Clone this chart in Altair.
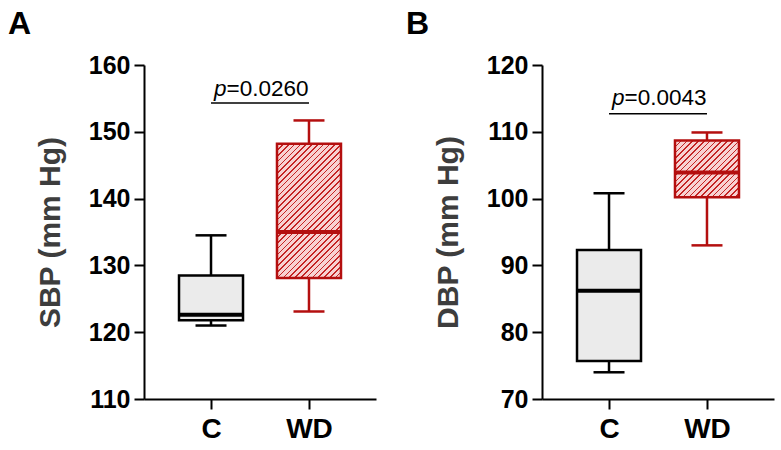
import altair as alt
import pandas as pd

# Groups on the x axis
groups = ["C", "WD"]

# Systolic blood pressure box statistics (mm Hg), one entry per group
sbp_min = [121.0, 123.1]
sbp_q1 = [121.8, 128.1]
sbp_median = [122.6, 135.0]
sbp_q3 = [128.5, 148.2]
sbp_max = [134.5, 151.7]

# Diastolic blood pressure box statistics (mm Hg)
dbp_min = [74.0, 93.0]
dbp_q1 = [75.7, 100.2]
dbp_median = [86.2, 103.9]
dbp_q3 = [92.3, 108.7]
dbp_max = [100.8, 109.9]

# Axis ticks
sbp_ticks = [110, 120, 130, 140, 150, 160]
dbp_ticks = [70, 80, 90, 100, 110, 120]

# Significance annotations
p_values = ["=0.0260", "=0.0043"]
bracket_y = [154.3, 112.7]
label_y = [155.3, 114.0]

FONT = "Liberation Sans"
RED = "#b40f0f"
STRIPE = "#c42424"
PINK = "#f8d2d2"
PLOT_W = 232
PLOT_H = 334
BOX_W = 64


def hatch(height_px, width_px=BOX_W, period=5.8, line=1.7):
    """Diagonal '/' stripes as a hard-stop linear gradient over the box."""
    w, h = width_px, height_px
    s = w + h
    n2 = w * w + h * h
    x2 = w * s / n2
    y2 = h * s / n2
    stops = []
    T = period / s
    a = line / s
    k = 0
    while k * T < 1:
        o = k * T
        stops += [
            {"offset": min(o, 1), "color": STRIPE},
            {"offset": min(o + a, 1), "color": STRIPE},
            {"offset": min(o + a, 1), "color": PINK},
            {"offset": min(o + T, 1), "color": PINK},
        ]
        k += 1
    return {"gradient": "linear", "x1": 0, "y1": 0, "x2": x2, "y2": y2,
            "stops": stops}


def panel(letter, ytitle, lo, q1, med, q3, hi, ticks, p_text, br_y, lab_y):
    df = pd.DataFrame({"group": groups, "lo": lo, "q1": q1, "med": med,
                       "q3": q3, "hi": hi})
    ann = pd.DataFrame({"start": ["C"], "end": ["WD"], "by": [br_y],
                        "ly": [lab_y], "p": ["p"], "rest": [p_text]})

    yscale = alt.Scale(domain=[ticks[0], ticks[-1]], nice=False, zero=False)
    yaxis = alt.Axis(values=ticks, title=ytitle)
    xscale = alt.Scale(type="point", domain=groups, padding=0.684)
    xaxis = alt.Axis(title=None, labelAngle=0)
    color = alt.Color("group:N", scale=alt.Scale(domain=groups,
                      range=["#000000", RED]), legend=None)

    def Y(field):
        return alt.Y(f"{field}:Q", scale=yscale, axis=yaxis, title=ytitle)

    def X(field="group"):
        return alt.X(f"{field}:N", scale=xscale, axis=xaxis, title=None)

    base = alt.Chart(df)
    whisker = base.mark_rule(strokeWidth=2.5).encode(
        x=X(), y=Y("lo"), y2="hi", color=color)
    cap_lo = base.mark_tick(orient="horizontal", size=31, thickness=2.5,
                            opacity=1).encode(x=X(), y=Y("lo"), color=color)
    cap_hi = base.mark_tick(orient="horizontal", size=31, thickness=2.5,
                            opacity=1).encode(x=X(), y=Y("hi"), color=color)
    box_c = base.transform_filter(alt.datum.group == "C").mark_bar(
        size=BOX_W, fill="#ebebeb", stroke="#000000", strokeWidth=2.5
    ).encode(x=X(), y=Y("q1"), y2="q3")
    wd_h = (q3[1] - q1[1]) / (ticks[-1] - ticks[0]) * PLOT_H
    box_wd = base.transform_filter(alt.datum.group == "WD").mark_bar(
        size=BOX_W, fill=hatch(wd_h), stroke=RED, strokeWidth=2.5
    ).encode(x=X(), y=Y("q1"), y2="q3")
    median = base.mark_tick(orient="horizontal", size=BOX_W, thickness=4,
                            opacity=1).encode(x=X(), y=Y("med"), color=color)

    abase = alt.Chart(ann)
    bracket = abase.mark_rule(strokeWidth=1.5, color="#000000").encode(
        x=X("start"), x2="end", y=Y("by"))
    p_italic = abase.mark_text(align="left", baseline="alphabetic", dx=3,
                               fontSize=22.5, font=FONT, fontStyle="italic",
                               color="#000000").encode(
        x=X("start"), y=Y("ly"), text="p:N")
    p_rest = abase.mark_text(align="left", baseline="alphabetic", dx=15.5,
                             fontSize=22.5, font=FONT, color="#000000").encode(
        x=X("start"), y=Y("ly"), text="rest:N")

    return alt.layer(
        whisker, cap_lo, cap_hi, box_c, box_wd, median, bracket, p_italic, p_rest
    ).properties(
        width=PLOT_W, height=PLOT_H,
        title=alt.TitleParams(letter, anchor="start", frame="group",
                              fontSize=32, font=FONT, fontWeight="bold",
                              color="#000000", dx=-136, offset=-13,
                              baseline="alphabetic"),
    )


left = panel("A", "SBP (mm Hg)", sbp_min, sbp_q1, sbp_median, sbp_q3, sbp_max,
             sbp_ticks, p_values[0], bracket_y[0], label_y[0])
right = panel("B", "DBP (mm Hg)", dbp_min, dbp_q1, dbp_median, dbp_q3, dbp_max,
              dbp_ticks, p_values[1], bracket_y[1], label_y[1])

chart = alt.hconcat(left, right, spacing=30).properties(
    padding={"left": 8, "top": 8, "right": 5, "bottom": 5}
).configure_view(stroke=None).configure_axis(
    domainColor="#000000", domainWidth=2, tickColor="#000000", tickWidth=2,
    tickSize=10, labelFont=FONT, labelFontWeight="bold", labelColor="#000000",
    titleFont=FONT, titleFontWeight="bold", titleColor="#3d3d3d",
    grid=False,
).configure_axisY(
    labelFontSize=25, labelPadding=4, titleFontSize=30, titlePadding=23,
).configure_axisX(
    labelFontSize=28, labelPadding=6,
)

chart.save("out.html", embed_options={"renderer": "svg", "actions": False})
